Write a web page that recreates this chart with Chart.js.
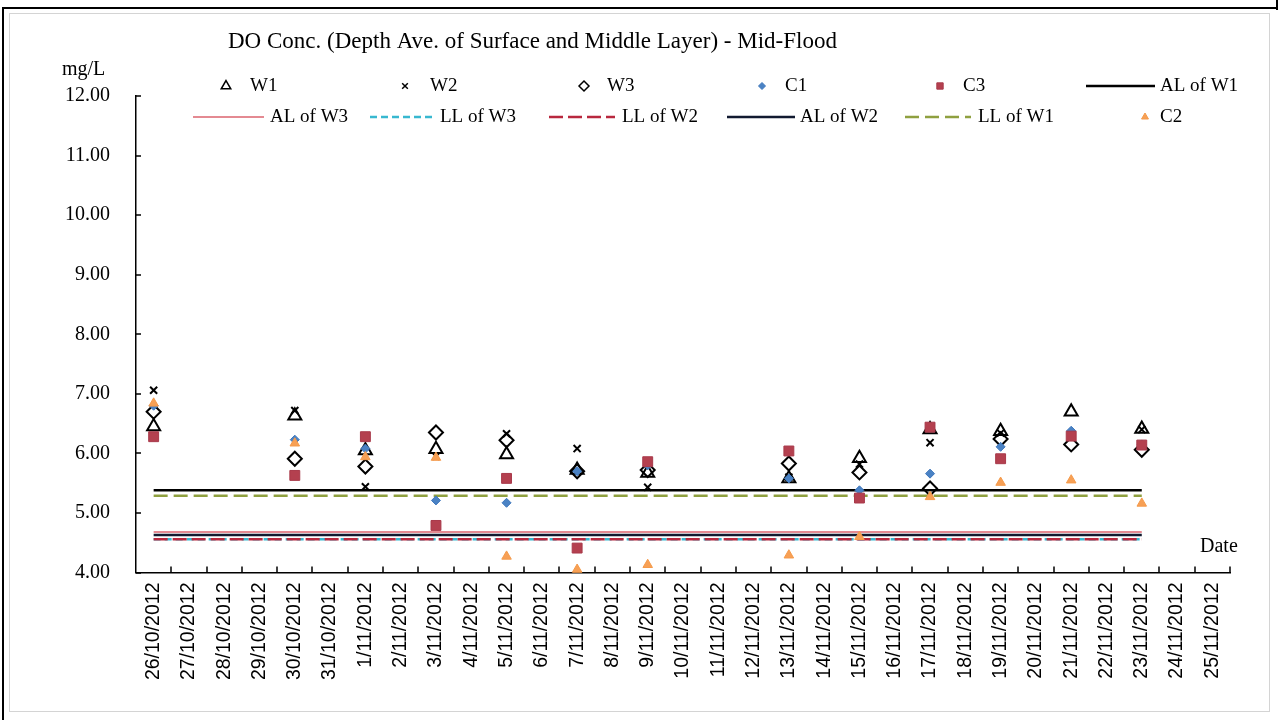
<!DOCTYPE html>
<html>
<head>
<meta charset="utf-8">
<script src="https://cdn.jsdelivr.net/npm/chart.js@4/dist/chart.umd.min.js"></script>
<style>
  html, body { margin: 0; padding: 0; background: #fff; }
  #wrap { width: 1281px; height: 720px; position: relative; }
  canvas { display: block; }
</style>
</head>
<body>
<div id="wrap"><canvas id="chart" width="1281" height="720"></canvas></div>
<script>
// Category axis: one slot per day
const categories = [
  '26/10/2012', '27/10/2012', '28/10/2012', '29/10/2012', '30/10/2012', '31/10/2012',
  '1/11/2012', '2/11/2012', '3/11/2012', '4/11/2012', '5/11/2012', '6/11/2012',
  '7/11/2012', '8/11/2012', '9/11/2012', '10/11/2012', '11/11/2012', '12/11/2012',
  '13/11/2012', '14/11/2012', '15/11/2012', '16/11/2012', '17/11/2012', '18/11/2012',
  '19/11/2012', '20/11/2012', '21/11/2012', '22/11/2012', '23/11/2012', '24/11/2012',
  '25/11/2012'
];

// Monitoring days
const sampleDates = [
  '26/10/2012', '30/10/2012', '1/11/2012', '3/11/2012', '5/11/2012', '7/11/2012',
  '9/11/2012', '13/11/2012', '15/11/2012', '17/11/2012', '19/11/2012', '21/11/2012',
  '23/11/2012'
];

// DO (mg/L), depth average of surface and middle layer, mid-flood
const doW1 = [6.45, 6.63, 6.05, 6.07, 5.98, 5.72, 5.67, 5.58, 5.92, 6.40, 6.37, 6.70, 6.41];
const doW2 = [7.06, 6.72, 5.44, 5.95, 6.33, 6.08, 5.43, 5.60, 5.82, 6.18, 6.34, 6.32, 6.40];
const doW3 = [6.70, 5.91, 5.78, 6.35, 6.22, 5.70, 5.72, 5.83, 5.68, 5.41, 6.24, 6.15, 6.06];
const doC1 = [6.80, 6.23, 6.08, 5.21, 5.17, 5.70, 5.80, 5.58, 5.38, 5.66, 6.11, 6.38, 6.15];
const doC3 = [6.28, 5.63, 6.28, 4.79, 5.58, 4.41, 5.86, 6.04, 5.25, 6.44, 5.91, 6.29, 6.14];
const doC2 = [6.84, 6.17, 5.94, 5.93, 4.27, 4.05, 4.13, 4.29, 4.60, 5.27, 5.51, 5.55, 5.16];

// Action / limit levels (mg/L)
const levelNames  = ['AL of W1', 'AL of W3', 'LL of W3', 'LL of W2', 'AL of W2', 'LL of W1'];
const levelValues = [5.38, 4.68, 4.56, 4.56, 4.63, 5.29];

// Y axis ticks
const yTicks = [4, 5, 6, 7, 8, 9, 10, 11, 12];

const points = vals => sampleDates.map((d, i) => ({ x: d, y: vals[i] }));
const levelSpan = (v) => {
  const a = categories.indexOf(sampleDates[0]);
  const b = categories.indexOf(sampleDates[sampleDates.length - 1]);
  return categories.slice(a, b + 1).map(d => ({ x: d, y: v }));
};

const markerSeries = [
  { label: 'W1', data: points(doW1), pointStyle: 'triangle', pointRadius: 7.5, pointBorderWidth: 2,
    pointBorderColor: '#000', pointBackgroundColor: 'rgba(0,0,0,0)', order: 5 },
  { label: 'W2', data: points(doW2), pointStyle: 'crossRot', pointRadius: 5, pointBorderWidth: 2,
    pointBorderColor: '#000', pointBackgroundColor: '#000', order: 4 },
  { label: 'W3', data: points(doW3), pointStyle: 'rectRot', pointRadius: 7, pointBorderWidth: 2,
    pointBorderColor: '#000', pointBackgroundColor: 'rgba(0,0,0,0)', order: 3 },
  { label: 'C1', data: points(doC1), pointStyle: 'rectRot', pointRadius: 4.5, pointBorderWidth: 1,
    pointBorderColor: '#3f78bd', pointBackgroundColor: '#4a82c4', order: 2 },
  { label: 'C3', data: points(doC3), pointStyle: 'rect', pointRadius: 7, pointBorderWidth: 1,
    pointBorderColor: '#a8394a', pointBackgroundColor: '#b4404f', order: 1 },
];

const levelStyles = {
  'AL of W1': { color: '#000000', width: 2.5, dash: [] },
  'AL of W3': { color: '#e48a92', width: 2,   dash: [] },
  'LL of W3': { color: '#38b8d0', width: 2.5, dash: [7, 4] },
  'LL of W2': { color: '#b8283e', width: 2.5, dash: [14, 5] },
  'AL of W2': { color: '#111a30', width: 2.5, dash: [] },
  'LL of W1': { color: '#8fa040', width: 2.5, dash: [14, 6] },
};

const levelSeries = levelNames.map((name, i) => ({
  label: name,
  data: levelSpan(levelValues[i]),
  borderColor: levelStyles[name].color,
  borderWidth: levelStyles[name].width,
  borderDash: levelStyles[name].dash,
  pointRadius: 0,
  showLine: true,
  fill: false,
  order: 6 + (levelNames.length - i),
}));

const c2Series = { label: 'C2', data: points(doC2), pointStyle: 'triangle', pointRadius: 5.5, pointBorderWidth: 1,
  pointBorderColor: '#f59a4a', pointBackgroundColor: '#f7a055', order: 0 };

const datasets = [
  ...markerSeries.map(s => Object.assign({ showLine: false, clip: false }, s)),
  ...levelSeries,
  Object.assign({ showLine: false, clip: false }, c2Series),
];

// Legend layout: two rows, six entries each
const legendRows = [
  [
    { name: 'W1', cx: 226, tx: 250 }, { name: 'W2', cx: 405, tx: 430 }, { name: 'W3', cx: 584, tx: 607 },
    { name: 'C1', cx: 762, tx: 785 }, { name: 'C3', cx: 940, tx: 963 }, { name: 'AL of W1', x0: 1086, x1: 1155, tx: 1160 },
  ],
  [
    { name: 'AL of W3', x0: 193, x1: 264, tx: 270 }, { name: 'LL of W3', x0: 370, x1: 433, tx: 440 },
    { name: 'LL of W2', x0: 549, x1: 615, tx: 622 }, { name: 'AL of W2', x0: 727, x1: 795, tx: 800 },
    { name: 'LL of W1', x0: 905, x1: 971, tx: 978 }, { name: 'C2', cx: 1145, tx: 1160 },
  ],
];
const legendRowY = [86, 117];
const legendMarkerSize = { W1: 5.5, W2: 4, W3: 5, C1: 3.5, C3: 4.5, C2: 4 };

const decorations = {
  id: 'decorations',
  beforeDraw(chart) {
    const ctx = chart.ctx;
    ctx.save();
    ctx.fillStyle = '#fff';
    ctx.fillRect(0, 0, chart.width, chart.height);
    // outer frame
    ctx.strokeStyle = '#d4d4d4';
    ctx.lineWidth = 1;
    ctx.strokeRect(9.5, 13.5, 1260, 698);
    ctx.strokeStyle = '#000';
    ctx.lineWidth = 2;
    ctx.beginPath();
    ctx.moveTo(3, 9); ctx.lineTo(3, 720);
    ctx.moveTo(2, 8); ctx.lineTo(1276, 8);
    ctx.moveTo(1277, 0); ctx.lineTo(1277, 10);
    ctx.stroke();
    ctx.restore();
  },
  afterDraw(chart) {
    const ctx = chart.ctx;
    const area = chart.chartArea;
    const xs = chart.scales.x, ys = chart.scales.y;
    ctx.save();
    // inward tick marks
    ctx.strokeStyle = '#000';
    ctx.lineWidth = 1.5;
    ctx.beginPath();
    ys.ticks.forEach((t, i) => {
      const y = Math.round(ys.getPixelForTick(i));
      ctx.moveTo(area.left, y); ctx.lineTo(area.left + 5, y);
    });
    const n = categories.length;
    const step = xs.getPixelForValue(1) - xs.getPixelForValue(0);
    for (let i = 1; i <= n; i++) {
      const x = Math.round(xs.getPixelForValue(i - 1) + step / 2);
      ctx.moveTo(x, area.bottom); ctx.lineTo(x, area.bottom - 6);
    }
    ctx.stroke();

    // title and axis captions
    ctx.fillStyle = '#000';
    ctx.textBaseline = 'middle';
    ctx.textAlign = 'left';
    ctx.font = '23px "Liberation Serif"';
    ctx.fillText('DO Conc. (Depth Ave. of Surface and Middle Layer) - Mid-Flood', 228, 42);
    ctx.font = '20px "Liberation Serif"';
    ctx.fillText('mg/L', 62, 70);
    ctx.fillText('Date', 1200, 547);

    // legend
    ctx.font = '19px "Liberation Serif"';
    legendRows.forEach((row, r) => {
      const y = legendRowY[r];
      row.forEach(item => {
        const ds = chart.data.datasets.find(d => d.label === item.name);
        if (item.x0 !== undefined) {
          ctx.save();
          ctx.strokeStyle = ds.borderColor;
          ctx.lineWidth = ds.borderWidth;
          ctx.setLineDash(ds.borderDash || []);
          ctx.beginPath();
          ctx.moveTo(item.x0, y); ctx.lineTo(item.x1, y);
          ctx.stroke();
          ctx.restore();
        } else {
          ctx.save();
          ctx.strokeStyle = ds.pointBorderColor;
          ctx.fillStyle = ds.pointBackgroundColor;
          ctx.lineWidth = ds.pointBorderWidth > 1 ? 1.5 : 1;
          Chart.helpers.drawPoint(ctx, { pointStyle: ds.pointStyle, radius: legendMarkerSize[item.name], borderWidth: ctx.lineWidth }, item.cx, y);
          ctx.restore();
        }
        ctx.fillStyle = '#000';
        ctx.fillText(item.name, item.tx, y);
      });
    });
    ctx.restore();
  }
};

new Chart(document.getElementById('chart'), {
  type: 'line',
  data: { labels: categories, datasets },
  options: {
    responsive: false,
    animation: false,
    devicePixelRatio: 1,
    layout: { padding: { left: 0, top: 96, right: 51, bottom: 0 } },
    plugins: { legend: { display: false }, title: { display: false }, tooltip: { enabled: false } },
    scales: {
      x: {
        type: 'category',
        labels: categories,
        offset: true,
        border: { display: true, color: '#000', width: 1.5 },
        grid: { display: true, drawOnChartArea: false, drawTicks: false },
        ticks: {
          autoSkip: false, maxRotation: 90, minRotation: 90,
          color: '#000', padding: 10,
          font: { family: '"Liberation Sans"', size: 19.5 },
        },
        afterFit: s => { s.height = 720 - 572.5; },
      },
      y: {
        min: 4, max: 12,
        border: { display: true, color: '#000', width: 1.5 },
        grid: { display: true, drawOnChartArea: false, drawTicks: false },
        afterBuildTicks: s => { s.ticks = yTicks.map(v => ({ value: v })); },
        ticks: {
          color: '#000', padding: 26,
          font: { family: '"Liberation Serif"', size: 20 },
          callback: v => Number(v).toFixed(2),
        },
        afterFit: s => { s.width = 136; },
      },
    },
  },
  plugins: [decorations],
});
</script>
</body>
</html>
